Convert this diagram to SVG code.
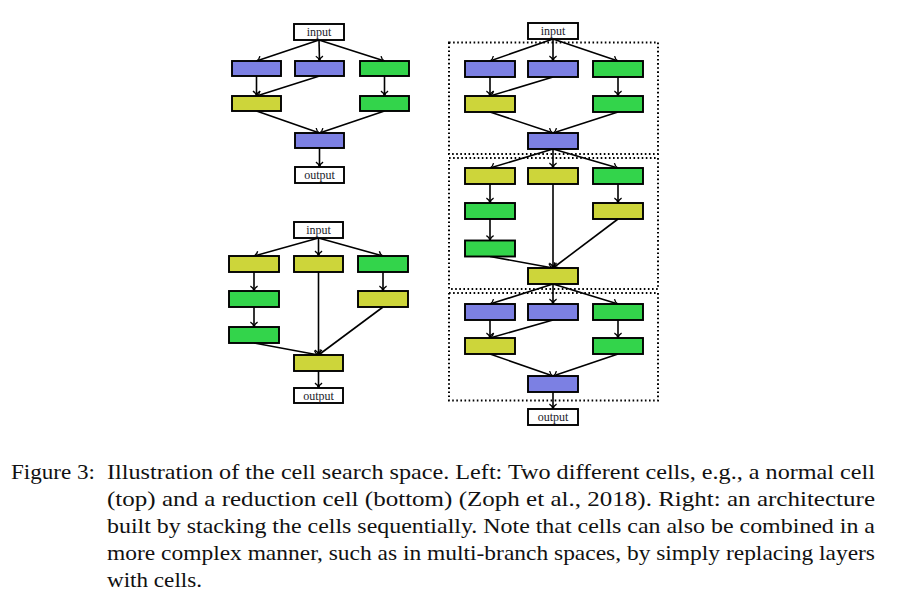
<svg xmlns="http://www.w3.org/2000/svg" width="899" height="599" viewBox="0 0 899 599">
<style>
.n{stroke:#000;stroke-width:1.9}
.b{fill:#7c80e3}
.y{fill:#cdd53a}
.g{fill:#33d44b}
.w{fill:#fff}
.lbl{font-family:"Liberation Serif","Times New Roman",serif;font-size:12px;fill:#1a1a2a;text-anchor:middle}
.cap{font-family:"Liberation Serif","Times New Roman",serif;font-size:21px;fill:#111}
.e line{stroke:#000;stroke-width:1.6;marker-end:url(#ah)}
.cell{fill:none;stroke:#000;stroke-width:2;stroke-dasharray:1.6 2.5}
</style>
<defs>
<marker id="ah" markerUnits="userSpaceOnUse" markerWidth="10" markerHeight="10" viewBox="-5 -5 6 10" refX="0" refY="0" orient="auto">
<path d="M-4.8,-3.6 C-3.6,-1.3 -1.5,-0.3 0,0 C-1.5,0.3 -3.6,1.3 -4.8,3.6" fill="none" stroke="#000" stroke-width="1.3"/>
</marker>
</defs>
<rect width="899" height="599" fill="#fff"/>

<!-- dotted cell boxes (right) -->
<g id="cells">
<rect class="cell" x="449" y="42.5" width="209" height="111.5"/>
<rect class="cell" x="449" y="158" width="209" height="131"/>
<rect class="cell" x="449" y="293" width="209" height="107.5"/>
</g>

<!-- connectors -->
<g id="connectors" class="e">
<!-- top-left -->
<line x1="319" y1="40" x2="256.5" y2="61"/>
<line x1="319" y1="40" x2="319.5" y2="61"/>
<line x1="319" y1="40" x2="384.5" y2="61"/>
<line x1="256.5" y1="76" x2="256.5" y2="96"/>
<line x1="319.5" y1="76" x2="256.5" y2="96"/>
<line x1="384.5" y1="76" x2="384.5" y2="96"/>
<line x1="256.5" y1="111" x2="319.5" y2="133"/>
<line x1="384.5" y1="111" x2="319.5" y2="133"/>
<line x1="319.5" y1="148" x2="319.5" y2="167"/>
<!-- bottom-left -->
<line x1="318.5" y1="238" x2="254" y2="256"/>
<line x1="318.5" y1="238" x2="318.5" y2="256"/>
<line x1="318.5" y1="238" x2="383" y2="256"/>
<line x1="254" y1="272" x2="254" y2="291"/>
<line x1="254" y1="307" x2="254" y2="327"/>
<line x1="254" y1="343" x2="318.5" y2="355"/>
<line x1="318.5" y1="272" x2="318.5" y2="355"/>
<line x1="383" y1="272" x2="383" y2="291"/>
<line x1="383" y1="307" x2="318.5" y2="355"/>
<line x1="318.5" y1="371" x2="318.5" y2="388"/>
<!-- right cell 1 -->
<line x1="553" y1="39" x2="490" y2="61"/>
<line x1="553" y1="39" x2="553" y2="61"/>
<line x1="553" y1="39" x2="618" y2="61"/>
<line x1="490" y1="77" x2="490" y2="96"/>
<line x1="553" y1="77" x2="490" y2="96"/>
<line x1="618" y1="77" x2="618" y2="96"/>
<line x1="490" y1="112" x2="553" y2="133"/>
<line x1="618" y1="112" x2="553" y2="133"/>
<!-- right cell 2 -->
<line x1="553" y1="149" x2="490" y2="168"/>
<line x1="553" y1="149" x2="553" y2="168"/>
<line x1="553" y1="149" x2="618" y2="168"/>
<line x1="490" y1="184" x2="490" y2="203"/>
<line x1="490" y1="219" x2="490" y2="240.5"/>
<line x1="490" y1="256.5" x2="553" y2="268"/>
<line x1="553" y1="184" x2="553" y2="268"/>
<line x1="618" y1="184" x2="618" y2="203"/>
<line x1="618" y1="219" x2="553" y2="268"/>
<!-- right cell 3 -->
<line x1="553" y1="284" x2="490" y2="304"/>
<line x1="553" y1="284" x2="553" y2="304"/>
<line x1="553" y1="284" x2="618" y2="304"/>
<line x1="490" y1="320" x2="490" y2="338"/>
<line x1="553" y1="320" x2="490" y2="338"/>
<line x1="618" y1="320" x2="618" y2="338"/>
<line x1="490" y1="354" x2="553" y2="376"/>
<line x1="618" y1="354" x2="553" y2="376"/>
<line x1="553" y1="392" x2="553" y2="409"/>
</g>

<!-- top-left cell -->
<g id="tl-input"><rect class="n w" x="294" y="24" width="50" height="16"/><text class="lbl" x="319" y="36">input</text></g>
<g id="tl-a"><rect class="n b" x="232" y="61" width="49" height="15"/></g>
<g id="tl-b"><rect class="n b" x="295" y="61" width="49" height="15"/></g>
<g id="tl-c"><rect class="n g" x="360" y="61" width="49" height="15"/></g>
<g id="tl-d"><rect class="n y" x="232" y="96" width="49" height="15"/></g>
<g id="tl-e"><rect class="n g" x="360" y="96" width="49" height="15"/></g>
<g id="tl-f"><rect class="n b" x="295" y="133" width="49" height="15"/></g>
<g id="tl-output"><rect class="n w" x="295" y="167" width="49" height="16"/><text class="lbl" x="319.5" y="179">output</text></g>

<!-- bottom-left cell -->
<g id="bl-input"><rect class="n w" x="294" y="222" width="49" height="16"/><text class="lbl" x="318.5" y="234">input</text></g>
<g id="bl-a"><rect class="n y" x="229" y="256" width="50" height="16"/></g>
<g id="bl-b"><rect class="n y" x="294" y="256" width="49" height="16"/></g>
<g id="bl-c"><rect class="n g" x="358" y="256" width="50" height="16"/></g>
<g id="bl-d"><rect class="n g" x="229" y="291" width="50" height="16"/></g>
<g id="bl-e"><rect class="n y" x="358" y="291" width="50" height="16"/></g>
<g id="bl-g"><rect class="n g" x="229" y="327" width="50" height="16"/></g>
<g id="bl-f"><rect class="n y" x="294" y="355" width="49" height="16"/></g>
<g id="bl-output"><rect class="n w" x="294" y="388" width="49" height="15"/><text class="lbl" x="318.5" y="399.5">output</text></g>

<!-- right stacked architecture -->
<g id="r-input"><rect class="n w" x="528" y="23" width="50" height="16"/><text class="lbl" x="553" y="35">input</text></g>
<g id="r1-a"><rect class="n b" x="465" y="61" width="50" height="16"/></g>
<g id="r1-b"><rect class="n b" x="528" y="61" width="50" height="16"/></g>
<g id="r1-c"><rect class="n g" x="593" y="61" width="50" height="16"/></g>
<g id="r1-d"><rect class="n y" x="465" y="96" width="50" height="16"/></g>
<g id="r1-e"><rect class="n g" x="593" y="96" width="50" height="16"/></g>
<g id="r1-f"><rect class="n b" x="528" y="133" width="50" height="16"/></g>

<g id="r2-a"><rect class="n y" x="465" y="168" width="50" height="16"/></g>
<g id="r2-b"><rect class="n y" x="528" y="168" width="50" height="16"/></g>
<g id="r2-c"><rect class="n g" x="593" y="168" width="50" height="16"/></g>
<g id="r2-d"><rect class="n g" x="465" y="203" width="50" height="16"/></g>
<g id="r2-e"><rect class="n y" x="593" y="203" width="50" height="16"/></g>
<g id="r2-g"><rect class="n g" x="465" y="240.5" width="50" height="16"/></g>
<g id="r2-f"><rect class="n y" x="528" y="268" width="50" height="16"/></g>

<g id="r3-a"><rect class="n b" x="465" y="304" width="50" height="16"/></g>
<g id="r3-b"><rect class="n b" x="528" y="304" width="50" height="16"/></g>
<g id="r3-c"><rect class="n g" x="593" y="304" width="50" height="16"/></g>
<g id="r3-d"><rect class="n y" x="465" y="338" width="50" height="16"/></g>
<g id="r3-e"><rect class="n g" x="593" y="338" width="50" height="16"/></g>
<g id="r3-f"><rect class="n b" x="528" y="376" width="50" height="16"/></g>
<g id="r-output"><rect class="n w" x="528" y="409" width="50" height="16"/><text class="lbl" x="553" y="421">output</text></g>

<!-- caption -->
<g id="caption" class="cap">
<text x="11" y="479" textLength="84" lengthAdjust="spacingAndGlyphs">Figure 3:</text>
<text x="107" y="479" textLength="768" lengthAdjust="spacingAndGlyphs">Illustration of the cell search space. Left: Two different cells, e.g., a normal cell</text>
<text x="107" y="506" textLength="768" lengthAdjust="spacingAndGlyphs">(top) and a reduction cell (bottom) (Zoph et al., 2018). Right: an architecture</text>
<text x="107" y="533" textLength="768" lengthAdjust="spacingAndGlyphs">built by stacking the cells sequentially. Note that cells can also be combined in a</text>
<text x="107" y="560" textLength="768" lengthAdjust="spacingAndGlyphs">more complex manner, such as in multi-branch spaces, by simply replacing layers</text>
<text x="107" y="587" textLength="95" lengthAdjust="spacingAndGlyphs">with cells.</text>
</g>
</svg>
